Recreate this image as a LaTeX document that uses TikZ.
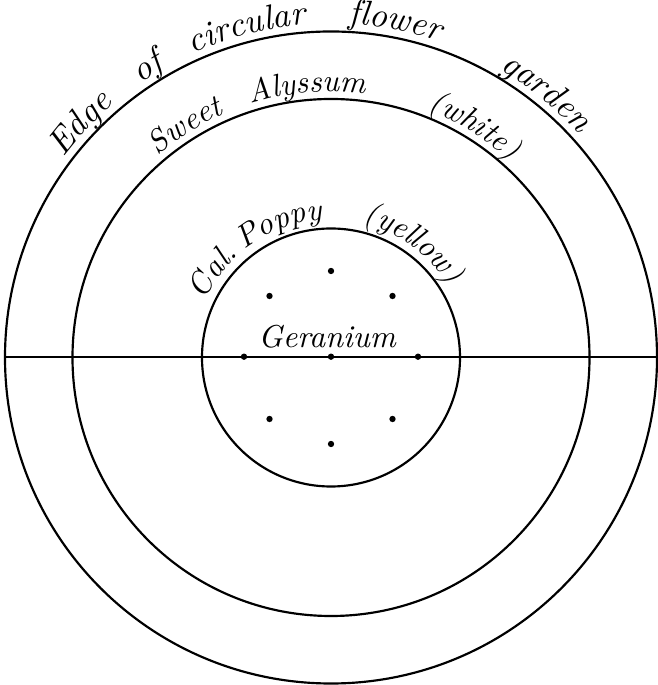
\documentclass[tikz,border=0pt]{standalone}
\usetikzlibrary{decorations.text}
\tikzset{
  ring/.style={line width=0.65pt},
  seed/.style={circle, fill=black, inner sep=0pt, minimum size=1.9pt},
  plainlabel/.style={font=\fontsize{9.5}{11}\selectfont\itshape, inner sep=0pt},
}
\newcommand{\arcword}[4]{%
  \path[decorate, decoration={text along path, text align=left,
    text={|\fontsize{#3}{#3}\selectfont\itshape|#4}}]
    (#2:#1) arc[start angle=#2, delta angle=-70, radius=#1];
}
\begin{document}
\begin{tikzpicture}[x=0.3pt, y=0.3pt]
\useasboundingbox (-331,-327.5) rectangle (326,357.5);
% circles
\draw[ring] (0,0) circle[radius=326];
\draw[ring] (0,0) circle[radius=258.5];
\draw[ring] (0,0) circle[radius=129];
% diameter line
\coordinate (lineL) at (-326,0.8);
\coordinate (lineR) at (326,0.8);
\draw[ring] (lineL) -- (lineR);
% plants
\node[seed] (d0) at (0,0.8) {};
\node[seed] (d1) at (87,0.8) {};
\node[seed] (d2) at (61.5,61.5) {};
\node[seed] (d3) at (0,86.5) {};
\node[seed] (d4) at (-61.5,61.5) {};
\node[seed] (d5) at (-87,0.8) {};
\node[seed] (d6) at (-61.5,-61.5) {};
\node[seed] (d7) at (61.5,-61.5) {};
\node[seed] (d8) at (0,-86.5) {};
\node[plainlabel, anchor=base] (geranium) at (-4,9.5) {Geranium};
% curved labels: outer
\arcword{334}{143.3}{10.5}{Edge}
\arcword{334}{124.8}{10.5}{of}
\arcword{334}{114.5}{10.5}{circular}
\arcword{334}{87}{10.5}{flower}
\arcword{334}{59.7}{10.5}{garden}
% middle
\arcword{266}{130.6}{9.5}{Sweet}
\arcword{266}{107.6}{9.5}{Alyssum}
\arcword{266}{68.8}{9.5}{(white)}
% inner
\arcword{138}{155.6}{9.5}{Cal.}
\arcword{138}{128.9}{9.5}{Poppy}
\arcword{138}{76.8}{9.5}{(yellow)}
\end{tikzpicture}
\end{document}
